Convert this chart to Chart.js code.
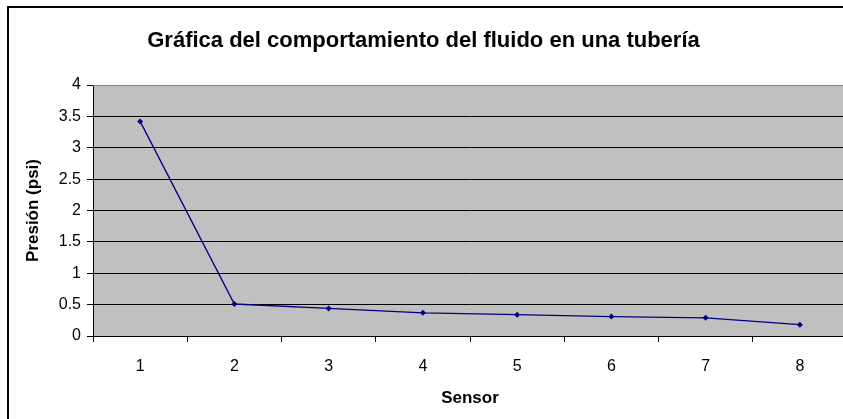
<!DOCTYPE html>
<html>
<head>
<meta charset="utf-8">
<title>Gráfica del comportamiento del fluido en una tubería</title>
<style>
  html, body { margin: 0; padding: 0; background: #ffffff; overflow: hidden; }
  #wrap { position: absolute; left: 0; top: 0; width: 860px; height: 432px; }
</style>
<script src="https://cdn.jsdelivr.net/npm/chart.js@4.4.1/dist/chart.umd.min.js"></script>
</head>
<body>
<div id="wrap"><canvas id="grafica" width="860" height="432"></canvas></div>
<script>
// Lecturas de presión por sensor a lo largo de la tubería
const sensores = ['1', '2', '3', '4', '5', '6', '7', '8'];
const presion = [3.42, 0.51, 0.44, 0.37, 0.34, 0.31, 0.29, 0.18];
const marcasPresion = [0, 0.5, 1, 1.5, 2, 2.5, 3, 3.5, 4];

const FUENTE = "'Liberation Sans', Arial, sans-serif";

// Fondo gris del área de trazado y marco exterior del gráfico
const marcoGrafico = {
  id: 'marcoGrafico',
  beforeDraw(chart) {
    const { ctx, chartArea: a } = chart;
    ctx.save();
    ctx.fillStyle = '#c0c0c0';
    ctx.fillRect(a.left, a.top, a.right - a.left, a.bottom - a.top);
    ctx.restore();
  },
  afterDraw(chart) {
    const { ctx, chartArea: a } = chart;
    ctx.save();
    ctx.strokeStyle = '#808080';
    ctx.lineWidth = 1;
    ctx.beginPath();
    ctx.moveTo(a.left, a.top + 0.5);
    ctx.lineTo(a.right, a.top + 0.5);
    ctx.moveTo(a.right - 0.5, a.top);
    ctx.lineTo(a.right - 0.5, a.bottom);
    ctx.stroke();
    ctx.strokeStyle = '#000000';
    ctx.lineWidth = 2;
    ctx.strokeRect(8, 7, 846, 420);
    ctx.restore();
  }
};

new Chart(document.getElementById('grafica'), {
  type: 'line',
  data: {
    labels: sensores,
    datasets: [{
      label: 'Presión (psi)',
      data: presion,
      borderColor: '#000080',
      backgroundColor: '#000080',
      borderWidth: 1.3,
      tension: 0,
      pointStyle: 'rectRot',
      pointRadius: 3,
      pointHoverRadius: 3,
      pointBackgroundColor: '#000080',
      pointBorderColor: '#000080',
      pointBorderWidth: 0
    }]
  },
  options: {
    responsive: false,
    animation: false,
    devicePixelRatio: 1,
    layout: { padding: { left: 0, right: 13, top: 0, bottom: 0 } },
    plugins: {
      legend: { display: false },
      tooltip: { enabled: false },
      title: {
        display: true,
        text: 'Gráfica del comportamiento del fluido en una tubería',
        color: '#000000',
        font: { family: FUENTE, size: 22, weight: 'bold', lineHeight: 1.2 },
        padding: { top: 28, bottom: 30.6 }
      }
    },
    scales: {
      x: {
        type: 'category',
        offset: true,
        afterFit(s) { s.height = 96; },
        grid: {
          offset: true,
          drawOnChartArea: false,
          drawTicks: true,
          tickLength: 6,
          color: '#000000'
        },
        border: { display: true, color: '#000000', width: 1 },
        ticks: {
          color: '#000000',
          padding: 15,
          maxRotation: 0,
          font: { family: FUENTE, size: 16 }
        },
        title: {
          display: true,
          text: 'Sensor',
          color: '#000000',
          font: { family: FUENTE, size: 17, weight: 'bold', lineHeight: 1.2 },
          padding: { top: 0, bottom: 23 }
        }
      },
      y: {
        min: 0,
        max: 4,
        afterFit(s) { s.width = 93; },
        afterBuildTicks(s) { s.ticks = marcasPresion.map(v => ({ value: v })); },
        grid: {
          drawTicks: true,
          tickLength: 6,
          color: '#000000',
          lineWidth: 1
        },
        border: { display: true, color: '#000000', width: 1 },
        ticks: {
          color: '#000000',
          padding: 6,
          font: { family: FUENTE, size: 16 },
          callback: v => String(v)
        },
        title: {
          display: true,
          text: 'Presión (psi)',
          color: '#000000',
          font: { family: FUENTE, size: 17, weight: 'bold', lineHeight: 1.2 },
          padding: { top: 23, bottom: 0 }
        }
      }
    }
  },
  plugins: [marcoGrafico]
});
</script>
</body>
</html>
